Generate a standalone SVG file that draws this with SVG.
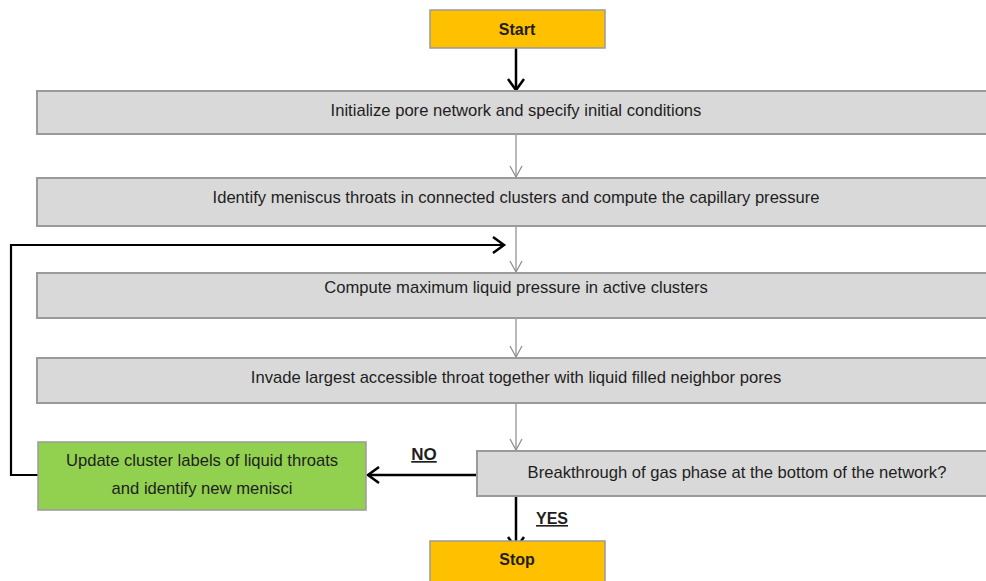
<svg xmlns="http://www.w3.org/2000/svg" width="986" height="581" viewBox="0 0 986 581">
<defs>
<marker id="thin" markerWidth="14" markerHeight="14" refX="12" refY="7" orient="auto" markerUnits="userSpaceOnUse" viewBox="0 0 14 14">
<path d="M1,1 L12,7 L1,13" fill="none" stroke="#8a8a8a" stroke-width="1.2"/>
</marker>
<marker id="bold" markerWidth="18" markerHeight="18" refX="15" refY="9" orient="auto" markerUnits="userSpaceOnUse" viewBox="0 0 18 18">
<path d="M4,1 L15,9 L4,17" fill="none" stroke="#000" stroke-width="2.5"/>
</marker>
</defs>
<style>
.gray{fill:#d9d9d9;stroke:#9a9a9a;stroke-width:2}
.green{fill:#92d050;stroke:#9a9a9a;stroke-width:1.5}
.orange{fill:#ffc000;stroke:#9a9a9a;stroke-width:1.5}
text{font-family:"Liberation Sans",Arial,sans-serif;font-size:16.6px;fill:#1e1e1e;text-anchor:middle}
.b{font-weight:bold;font-size:16px}
.lbl{font-weight:bold;text-decoration:underline}
.thin{stroke:#8a8a8a;stroke-width:1.2;fill:none}
.thick{stroke:#000;stroke-width:2.5;fill:none}
</style>
<rect width="986" height="581" fill="#fff"/>
<g id="connectors">
<line class="thick" x1="516" y1="48" x2="516" y2="90" marker-end="url(#bold)"/>
<line class="thin" x1="516" y1="135" x2="516" y2="177" marker-end="url(#thin)"/>
<line class="thin" x1="516" y1="226" x2="516" y2="272" marker-end="url(#thin)"/>
<line class="thin" x1="516" y1="318" x2="516" y2="357" marker-end="url(#thin)"/>
<line class="thin" x1="516" y1="403" x2="516" y2="450" marker-end="url(#thin)"/>
<polyline class="thick" points="38,475 11,475 11,245 504,245" marker-end="url(#bold)" style="stroke-width:2.2"/>
<line class="thick" x1="477" y1="475" x2="368" y2="475" marker-end="url(#bold)"/>
<line class="thick" x1="516" y1="497" x2="516" y2="548" marker-end="url(#bold)"/>
<text class="lbl" x="424" y="460" style="font-size:17px">NO</text>
<text class="lbl" x="552" y="524" style="font-size:16px">YES</text>
</g>
<g id="start">
<rect class="orange" x="430" y="10" width="175" height="38"/>
<text class="b" x="517" y="35">Start</text>
</g>
<g id="init">
<rect class="gray" x="37" y="91" width="960" height="43"/>
<text x="516" y="116">Initialize pore network and specify initial conditions</text>
</g>
<g id="identify">
<rect class="gray" x="37" y="178" width="960" height="48"/>
<text x="516" y="203">Identify meniscus throats in connected clusters and compute the capillary pressure</text>
</g>
<g id="compute">
<rect class="gray" x="37" y="273" width="960" height="45"/>
<text x="516" y="293">Compute maximum liquid pressure in active clusters</text>
</g>
<g id="invade">
<rect class="gray" x="37" y="358" width="960" height="45"/>
<text x="516" y="383">Invade largest accessible throat together with liquid filled neighbor pores</text>
</g>
<g id="breakthrough">
<rect class="gray" x="477" y="451" width="520" height="45"/>
<text x="737" y="478">Breakthrough of gas phase at the bottom of the network?</text>
</g>
<g id="update">
<rect class="green" x="38" y="442" width="328" height="68"/>
<text x="202" y="466">Update cluster labels of liquid throats</text>
<text x="202" y="494">and identify new menisci</text>
</g>
<g id="stop">
<rect class="orange" x="430" y="541" width="175" height="45"/>
<text class="b" x="517" y="565">Stop</text>
</g>
</svg>
